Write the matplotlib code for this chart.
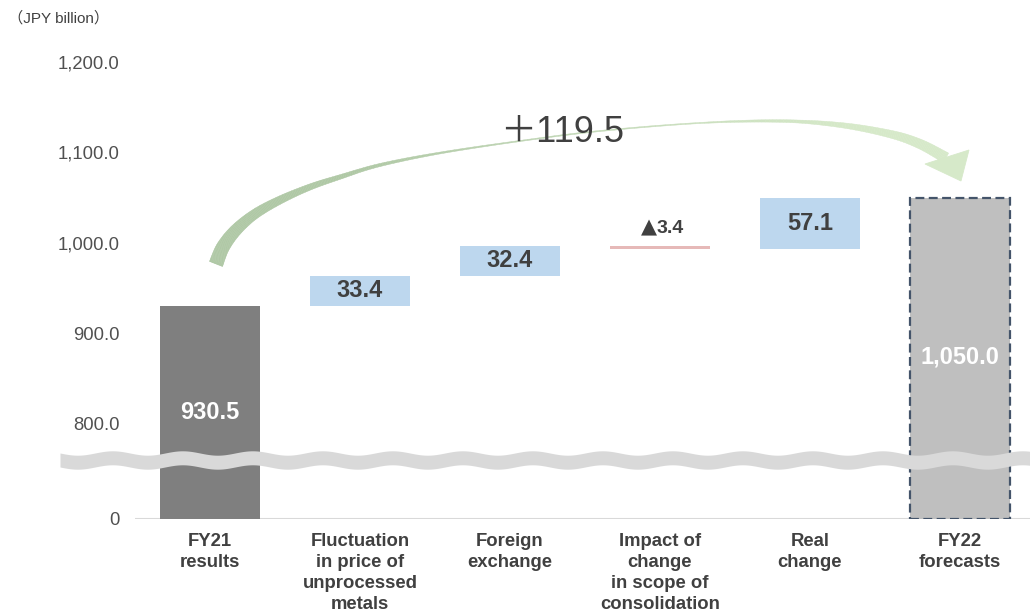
import numpy as np
import matplotlib
matplotlib.use('Agg')
import matplotlib.pyplot as plt
from matplotlib.collections import PolyCollection
from matplotlib.patches import Polygon
from matplotlib.scale import FuncScale
from matplotlib.colors import to_rgb

# ---------------- data ----------------
categories = ["FY21\nresults",
              "Fluctuation\nin price of\nunprocessed\nmetals",
              "Foreign\nexchange",
              "Impact of\nchange\nin scope of\nconsolidation",
              "Real\nchange",
              "FY22\nforecasts"]
values = [930.5, 33.4, 32.4, -3.4, 57.1, 1050.0]
kinds = ["total", "delta", "delta", "delta", "delta", "total"]
value_labels = ["930.5", "33.4", "32.4", "▲3.4", "57.1", "1,050.0"]
yticks = [0, 800, 900, 1000, 1100, 1200]
ytick_labels = ["0", "800.0", "900.0", "1,000.0", "1,100.0", "1,200.0"]
total_change_label = "＋119.5"
unit_label = "（JPY billion）"

# ---------------- style ----------------
W, H = 1030, 615
FONT = ['Liberation Sans', 'Noto Sans CJK JP', 'DejaVu Sans']
plt.rcParams['font.family'] = FONT
TXT = '#404040'
C_TOTAL0 = '#7f7f7f'
C_TOTAL1 = '#bfbfbf'
C_UP = '#bdd7ee'
C_DOWN = '#e6b9b8'

# broken axis: values below 800 compressed
K = 0.13125
BREAK = 800.0


def fwd(y):
    y = np.asarray(y, dtype=float)
    return np.where(y >= BREAK, y, BREAK - (BREAK - y) * K)


def inv(d):
    d = np.asarray(d, dtype=float)
    return np.where(d >= BREAK, d, BREAK - (BREAK - d) / K)


fig = plt.figure(figsize=(W / 100, H / 100), dpi=100)
ax = fig.add_axes([135 / W, 1 - 519 / H, 895 / W, (519 - 40) / H])
ax.set_yscale(FuncScale(ax, (fwd, inv)))
ax.set_ylim(0, 1224.3)
ax.set_xlim(-0.5, 5.467)

x = np.arange(len(values))
bottoms, heights, colors = [], [], []
running = 0.0
for i, (v, k) in enumerate(zip(values, kinds)):
    if k == "total":
        bottoms.append(0.0)
        heights.append(v)
        running = v
        colors.append(C_TOTAL0 if i == 0 else C_TOTAL1)
    else:
        bottoms.append(running)
        heights.append(v)
        running += v
        colors.append(C_UP if v >= 0 else C_DOWN)

bars = ax.bar(x, heights, bottom=bottoms, width=0.667, color=colors, zorder=2)
# dashed outline for forecast
last = bars[-1]
last.set_edgecolor('#44546a')
last.set_linewidth(1.6)
last.set_linestyle((0, (4, 2)))

ax.axhline(0, color='#d9d9d9', lw=1.5, zorder=1)

# value labels
for i, (b, h, k, lab) in enumerate(zip(bottoms, heights, kinds, value_labels)):
    if k == "total":
        ypos = 813 if i == 0 else 874
        ax.text(i, ypos, lab, ha='center', va='center', color='white',
                fontsize=17, fontweight='bold')
    elif h >= 0:
        ax.text(i, b + h / 2, lab, ha='center', va='center', color=TXT,
                fontsize=17, fontweight='bold')
    else:
        mark, num = lab[0], lab[1:]
        ax.text(i - 0.02, b + 21, mark, ha='right', va='center', color=TXT,
                fontsize=15, family='DejaVu Sans')
        ax.text(i - 0.02, b + 20, num, ha='left', va='center', color=TXT,
                fontsize=14, fontweight='bold')

ax.set_yticks(yticks)
ax.set_yticklabels(ytick_labels, fontsize=13.3, color='#505050')
ax.set_xticks(x)
ax.set_xticklabels(categories, fontsize=13.3, fontweight='bold', color=TXT,
                   linespacing=1.3, va='top')
ax.tick_params(axis='y', length=0, pad=11)
ax.tick_params(axis='x', length=0, pad=10)
for s in ax.spines.values():
    s.set_visible(False)

fig.text(8 / W, 1 - 18 / H, unit_label, ha='left', va='center', fontsize=11,
         color=TXT)

# ---------------- overlay (pixel coordinates) ----------------
ov = fig.add_axes([0, 0, 1, 1], zorder=3)
ov.set_xlim(0, W)
ov.set_ylim(H, 0)
ov.axis('off')
ov.patch.set_alpha(0)

# wavy break band
bx = np.linspace(60, 1030, 600)
bc = 460 + 2.2 * np.sin(2 * np.pi * (bx - 60) / 70)
ov.fill_between(bx, bc - 7, bc + 7, color='#d9d9d9', lw=0, zorder=3)

# curved arrow
ctrl = np.array([(216, 264), (223, 247), (236, 230), (255, 214), (280, 200),
                 (310, 187), (340, 177), (380, 165), (440, 153), (520, 141),
                 (600, 131), (700, 123), (780, 121), (840, 125), (890, 134),
                 (920, 144), (946, 158)], dtype=float)


def catmull(p, n=20):
    pp = np.vstack([p[0], p, p[-1]])
    out = []
    for i in range(1, len(pp) - 2):
        p0, p1, p2, p3 = pp[i - 1], pp[i], pp[i + 1], pp[i + 2]
        for t in np.linspace(0, 1, n, endpoint=False):
            t2, t3 = t * t, t * t * t
            out.append(0.5 * ((2 * p1) + (-p0 + p2) * t +
                              (2 * p0 - 5 * p1 + 4 * p2 - p3) * t2 +
                              (-p0 + 3 * p1 - 3 * p2 + p3) * t3))
    out.append(p[-1])
    return np.array(out)


c = catmull(ctrl)
wx = [216, 250, 300, 360, 440, 520, 700, 800, 880, 946]
ww = [14, 10, 6.5, 3.5, 1.8, 1.1, 1.1, 3, 7, 11]
w = np.interp(c[:, 0], wx, ww)
tg = np.gradient(c, axis=0)
tg /= np.linalg.norm(tg, axis=1)[:, None]
nrm = np.stack([-tg[:, 1], tg[:, 0]], axis=1)
L = c + nrm * (w / 2)[:, None]
R = c - nrm * (w / 2)[:, None]
ca = np.array(to_rgb('#afc8a5'))
cb = np.array(to_rgb('#d6e9c9'))
frac = np.clip((c[:, 0] - 350) / 500, 0, 1)
quads, qcols = [], []
for i in range(len(c) - 1):
    quads.append([L[i], L[i + 1], R[i + 1], R[i]])
    f = 0.5 * (frac[i] + frac[i + 1])
    qcols.append(ca * (1 - f) + cb * f)
pc = PolyCollection(quads, facecolors=qcols, edgecolors=qcols, linewidths=0.3,
                    zorder=4)
ov.add_collection(pc)
ov.add_patch(Polygon([(925, 164), (969, 150), (961, 181)], closed=True,
                     facecolor='#d6e9c9', edgecolor='#d6e9c9', lw=0.6, zorder=4))

ov.text(562, 133, total_change_label, ha='center', va='center', fontsize=26,
        color=TXT, zorder=5)

fig.savefig('out.png', dpi=100)
